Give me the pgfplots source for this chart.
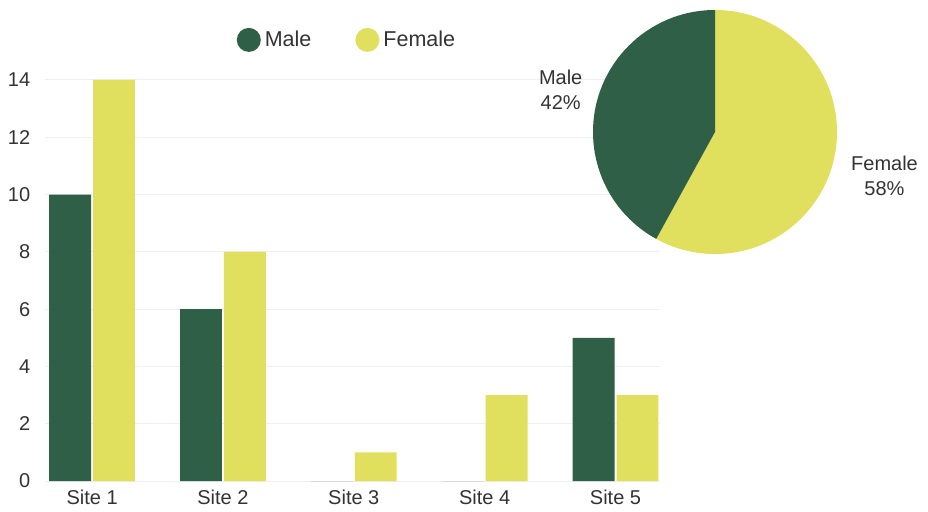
\documentclass[border=0pt]{standalone}
\usepackage{fontspec}
\setmainfont{Liberation Sans}
\usepackage{pgfplots}
\usepackage{pgfplotstable}
\pgfplotsset{compat=1.18}

\definecolor{maleG}{HTML}{2F5F46}
\definecolor{femY}{HTML}{E0DF5E}
\definecolor{txt}{HTML}{333333}
\definecolor{gridc}{HTML}{EFEFEF}

% counts per site
\pgfplotstableread{
x male female
0 10 14
1 6  8
2 0  1
3 0  3
4 5  3
}\sitedata

% share of all counts (21 male, 29 female)
\def\malePct{42}
\def\femalePct{58}
\pgfmathsetmacro{\maleAngle}{3.6*\malePct}
\pgfmathsetmacro{\femaleAngle}{3.6*\femalePct}

\begin{document}
\fontsize{20}{25}\selectfont
\begin{tikzpicture}
\draw[white, line width=0pt] (0pt,0pt) rectangle (928pt,510pt);

\begin{axis}[
  at={(45pt,29pt)}, anchor=south west,
  scale only axis, width=615pt, height=401pt,
  xmin=-0.36, xmax=4.34, ymin=0, ymax=14,
  ybar=2pt, bar width=0.32,
  axis line style={draw=none},
  major tick length=0pt,
  xtick={0,1,2,3,4},
  xticklabels={Site 1,Site 2,Site 3,Site 4,Site 5},
  ytick={0,2,...,14},
  ymajorgrids,
  grid style={gridc, line width=1pt},
  tick label style={text=txt},
  yticklabel style={xshift=-8pt},
  xticklabel style={yshift=-2pt},
  /pgf/number format/assume math mode=true,
  legend columns=2,
  legend style={at={(0.491,1.10)}, anchor=center, draw=none, fill=none,
    text=txt, font=\fontsize{21.5}{25}\selectfont,
    /tikz/every odd column/.append style={column sep=2pt},
    /tikz/every even column/.append style={column sep=42pt}},
]
\addplot[fill=maleG, draw=none,
  legend image code/.code={\fill[maleG] (0pt,0pt) circle (12pt);}]
  table[x=x, y=male] {\sitedata};
\addlegendentry{Male}
\addplot[fill=femY, draw=none,
  legend image code/.code={\fill[femY] (0pt,0pt) circle (12pt);}]
  table[x=x, y=female] {\sitedata};
\addlegendentry{Female}
\end{axis}

% pie of the totals
\begin{axis}[
  at={(715pt,378pt)}, anchor=center,
  scale only axis, width=244pt, height=244pt,
  xmin=-1, xmax=1, ymin=-1, ymax=1,
  hide axis, clip=false,
]
\fill[femY] (axis cs:0,0) -- (axis cs:0,1)
  arc[start angle=90, delta angle=-\femaleAngle, radius=122pt] -- cycle;
\fill[maleG] (axis cs:0,0) -- (axis cs:0,1)
  arc[start angle=90, delta angle=\maleAngle, radius=122pt] -- cycle;
\node[align=center, text=txt, shift={(164.7:160pt)}] at (axis cs:0,0) {Male\\\malePct\%};
\node[align=center, text=txt, shift={(-14.4:175pt)}] at (axis cs:0,0) {Female\\\femalePct\%};
\end{axis}
\end{tikzpicture}
\end{document}
